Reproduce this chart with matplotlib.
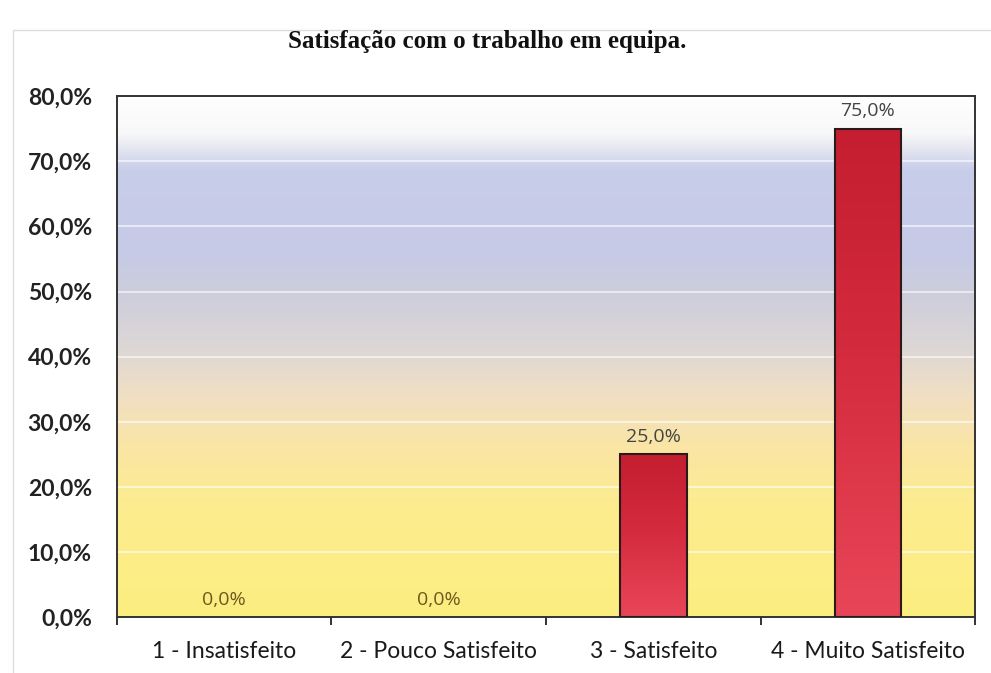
#!/usr/bin/env python3
"""Satisfação com o trabalho em equipa - bar chart with gradient background."""
import matplotlib
matplotlib.use("Agg")
import matplotlib.pyplot as plt
import numpy as np
from matplotlib.colors import LinearSegmentedColormap
from matplotlib.patches import Rectangle

CATEGORIES = ["1 - Insatisfeito", "2 - Pouco Satisfeito", "3 - Satisfeito", "4 - Muito Satisfeito"]
VALUES = [0.0, 0.0, 25.0, 75.0]
Y_TICKS = [0, 10, 20, 30, 40, 50, 60, 70, 80]
TITLE = "Satisfação com o trabalho em equipa."

BG_STOPS = [
    (0.00, "#fdee80"),
    (0.22, "#fcec90"),
    (0.33, "#fae5a6"),
    (0.42, "#f1dfc2"),
    (0.52, "#dcd7d6"),
    (0.62, "#cdcddc"),
    (0.70, "#c6cae6"),
    (0.86, "#c8cdea"),
    (0.90, "#e4e6f0"),
    (0.93, "#f8f8fa"),
    (1.00, "#ffffff"),
]
BAR_STOPS = [(0.0, "#e84658"), (0.55, "#d42a3d"), (1.0, "#c41e30")]


def fmt(v: float) -> str:
    return f"{v:.1f}".replace(".", ",") + "%"


def main() -> None:
    fig = plt.figure(figsize=(9.91, 6.73), dpi=100)
    fig.patch.set_facecolor("white")
    ax = fig.add_axes([0.118, 0.083, 0.866, 0.774])
    x = np.arange(len(CATEGORIES))
    ax.set_xlim(-0.5, len(CATEGORIES) - 0.5)
    ax.set_ylim(0, 80)

    bg = LinearSegmentedColormap.from_list("bg", BG_STOPS)
    grad = np.linspace(0, 1, 256).reshape(-1, 1)
    ax.imshow(grad, cmap=bg, aspect="auto", origin="lower",
              extent=[-0.5, len(CATEGORIES) - 0.5, 0, 80], zorder=0)

    for t in Y_TICKS[1:-1]:
        ax.axhline(t, color="white", linewidth=1.2, alpha=0.7, zorder=1)

    bar_cmap = LinearSegmentedColormap.from_list("bar", BAR_STOPS)
    width = 0.31
    edge = ["none" if v <= 0 else "#2a1a1a" for v in VALUES]
    bars = ax.bar(x, VALUES, width=width, color="none", edgecolor=edge, linewidth=1.5, zorder=3)
    for b, v in zip(bars, VALUES):
        if v <= 0:
            continue
        bx = b.get_x()
        im = ax.imshow(grad, cmap=bar_cmap, aspect="auto", origin="lower",
                       extent=[bx, bx + width, 0, v], zorder=2)
        im.set_clip_path(Rectangle((bx, 0), width, v, transform=ax.transData))

    for xi, v in zip(x, VALUES):
        color = "#6e5a1e" if v == 0 else "#444444"
        ax.text(xi, v + 1.3, fmt(v), ha="center", va="bottom", fontsize=14,
                family="Open Sans", color=color, zorder=4)

    ax.set_yticks(Y_TICKS)
    ax.set_yticklabels([fmt(t) for t in Y_TICKS], fontsize=16.5, family="Lato",
                       fontweight="bold", color="#222222")
    ax.tick_params(axis="y", length=0, pad=18)

    ax.set_xticks(x)
    ax.set_xticklabels(CATEGORIES, fontsize=16.5, family="Lato", color="#1a1a1a")
    ax.set_xticks(np.arange(-0.5, len(CATEGORIES)), minor=True)
    ax.tick_params(axis="x", which="major", length=0, pad=17)
    ax.tick_params(axis="x", which="minor", length=6, width=1.4, color="#333333", direction="out")

    for side in ["left", "bottom", "top", "right"]:
        ax.spines[side].set_color("#333333")
        ax.spines[side].set_linewidth(1.4)

    fig.text(0.492, 0.938, TITLE, ha="center", va="center", fontsize=18,
             family="Liberation Serif", fontweight="bold", color="#111111")

    fig.patches.append(Rectangle((0.013, -0.01), 0.99, 0.965, transform=fig.transFigure,
                                 fill=False, edgecolor="#dddddd", linewidth=1.0))

    fig.savefig("out.png", dpi=100, facecolor="white")


if __name__ == "__main__":
    main()
